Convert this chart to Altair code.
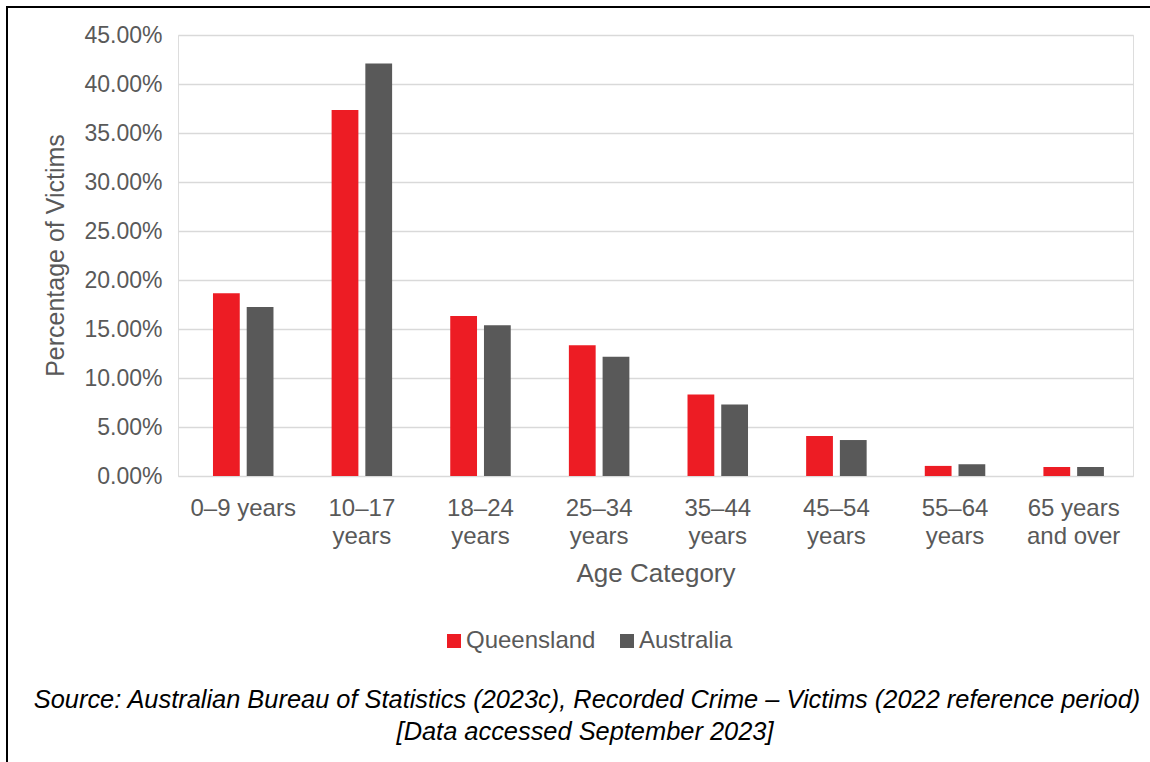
import json
import altair as alt
import pandas as pd

categories = ["0–9 years", "10–17 years", "18–24 years", "25–34 years",
              "35–44 years", "45–54 years", "55–64 years", "65 years and over"]
label_lines = [["0–9 years"], ["10–17", "years"], ["18–24", "years"], ["25–34", "years"],
               ["35–44", "years"], ["45–54", "years"], ["55–64", "years"], ["65 years", "and over"]]
series = ["Queensland", "Australia"]
queensland = [0.1864, 0.3735, 0.1633, 0.1334, 0.0832, 0.0408, 0.0103, 0.0092]
australia = [0.1725, 0.4210, 0.1538, 0.1218, 0.0730, 0.0367, 0.0120, 0.0092]
colors = ["#ED1C24", "#595959"]
source_lines = [
    "Source: Australian Bureau of Statistics (2023c), Recorded Crime – Victims (2022 reference period)",
    "[Data accessed September 2023]",
]

rows = []
for c, q, a in zip(categories, queensland, australia):
    rows.append({"Age Category": c, "Region": "Queensland", "Value": q})
    rows.append({"Age Category": c, "Region": "Australia", "Value": a})
df = pd.DataFrame(rows)

label_map = json.dumps({c: l for c, l in zip(categories, label_lines)}, ensure_ascii=False)
label_expr = f"({label_map})[datum.label]"

FONT = "Liberation Sans"
GREY = "#595959"

bars = alt.Chart(df).mark_bar().encode(
    x=alt.X("Age Category:N", sort=categories,
            scale=alt.Scale(paddingInner=0.49, paddingOuter=0.27, align=0.546),
            axis=alt.Axis(labelAngle=0, labelExpr=label_expr, labelFontSize=24,
                          labelColor=GREY, labelLineHeight=28, labelPadding=20,
                          ticks=False, domain=False, title="Age Category",
                          titleFontSize=26, titleColor=GREY, titleFontWeight="normal",
                          titlePadding=12, labelFont=FONT, titleFont=FONT)),
    xOffset=alt.XOffset("Region:N", sort=series,
                        scale=alt.Scale(paddingInner=0.206, paddingOuter=0)),
    y=alt.Y("Value:Q", scale=alt.Scale(domain=[0, 0.45], nice=False),
            axis=alt.Axis(format=".2%", values=[i * 0.05 for i in range(10)],
                          labelFontSize=23, labelColor=GREY, labelPadding=16,
                          ticks=False, domain=False, gridColor="#D9D9D9", gridWidth=1.3,
                          title="Percentage of Victims", titleFontSize=25,
                          titleColor=GREY, titleFontWeight="normal",
                          titleX=-110, titleY=220, labelFont=FONT, titleFont=FONT)),
    color=alt.Color("Region:N", sort=series,
                    scale=alt.Scale(domain=series, range=colors),
                    legend=alt.Legend(title=None, orient="none", direction="horizontal",
                                      legendX=264, legendY=594, padding=0,
                                      symbolType="square",
                                      symbolSize=196, symbolStrokeWidth=0,
                                      labelFontSize=24, labelColor=GREY, labelFont=FONT,
                                      labelOffset=0, columnPadding=19)),
)

src = pd.DataFrame({"line": source_lines, "idx": [0, 1]})
source1 = alt.Chart(src).transform_filter("datum.idx == 0").mark_text(
    font=FONT, fontSize=25.4, fontStyle="italic", color="black", align="center",
    baseline="alphabetic").encode(text="line:N", x=alt.value(409), y=alt.value(673))
source2 = alt.Chart(src).transform_filter("datum.idx == 1").mark_text(
    font=FONT, fontSize=25.4, fontStyle="italic", color="black", align="center",
    baseline="alphabetic").encode(text="line:N", x=alt.value(407), y=alt.value(705))

top_rule = alt.Chart(src).mark_rule(color="black", strokeWidth=2).encode(
    x=alt.value(-171), x2=alt.value(990), y=alt.value(-28))
left_rule = alt.Chart(src).mark_rule(color="black", strokeWidth=2).encode(
    x=alt.value(-171), y=alt.value(-29), y2=alt.value(740))

chart = alt.layer(bars, source1, source2, top_rule, left_rule).properties(
    width=955, height=441,
    autosize=alt.AutoSizeParams(type="none"),
    padding={"left": 178, "top": 35, "right": 17, "bottom": 286},
).configure_view(stroke=None).configure(background="white")

chart.save("out.html", embed_options={"renderer": "svg", "actions": False})
